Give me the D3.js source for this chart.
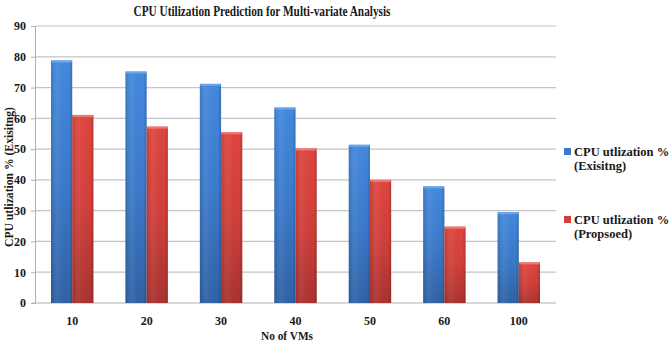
<!DOCTYPE html>
<html>
<head>
<meta charset="utf-8">
<script src="https://cdn.jsdelivr.net/npm/d3@7"></script>
<style>
  body { margin: 0; background: #fff; }
  svg text { font-family: "Liberation Serif", "Times New Roman", serif; font-weight: bold; fill: #1a1a1a; }
  .grid line { stroke: #c4c4c4; stroke-width: 1.2; }
  .axis path, .axis line { stroke: #b0b0b0; }
</style>
</head>
<body>
<div id="chart"></div>
<script>
const categories = ["10", "20", "30", "40", "50", "60", "100"];
const existing = [78.8, 75.2, 71.2, 63.5, 51.4, 37.9, 29.5];
const proposed = [61.1, 57.3, 55.5, 50.2, 40.0, 24.8, 13.2];
const seriesNames = ["CPU utlization % (Exisitng)", "CPU utlization % (Propsoed)"];
const yTicks = [0, 10, 20, 30, 40, 50, 60, 70, 80, 90];

const width = 669, height = 343;
const margin = { top: 26, right: 113, bottom: 40, left: 35 };

const svg = d3.select("#chart").append("svg")
  .attr("width", width).attr("height", height);

const defs = svg.append("defs");
function grad(id, light, mid, dark) {
  const g = defs.append("linearGradient").attr("id", id).attr("x1", 0).attr("y1", 0).attr("x2", 0).attr("y2", 1);
  g.append("stop").attr("offset", "0%").attr("stop-color", light);
  g.append("stop").attr("offset", "50%").attr("stop-color", mid);
  g.append("stop").attr("offset", "100%").attr("stop-color", dark);
  const h = defs.append("linearGradient").attr("id", id + "-h").attr("x1", 0).attr("y1", 0).attr("x2", 1).attr("y2", 0);
  h.append("stop").attr("offset", "0%").attr("stop-color", "#000").attr("stop-opacity", 0.12);
  h.append("stop").attr("offset", "30%").attr("stop-color", "#fff").attr("stop-opacity", 0.06);
  h.append("stop").attr("offset", "85%").attr("stop-color", "#000").attr("stop-opacity", 0.0);
  h.append("stop").attr("offset", "100%").attr("stop-color", "#000").attr("stop-opacity", 0.18);
}
grad("gBlue", "#4389de", "#3b7acb", "#2f62a6");
grad("gRed", "#e0453f", "#d13f3a", "#a9332f");

const x0 = d3.scaleBand().domain(categories)
  .range([margin.left, width - margin.right]).paddingInner(0.43).paddingOuter(0.215);
const x1 = d3.scaleBand().domain([0, 1]).range([0, x0.bandwidth()]);
const y = d3.scaleLinear().domain([0, 90]).range([height - margin.bottom, margin.top]);

// gridlines
svg.append("g").attr("class", "grid")
  .selectAll("line").data(yTicks.filter(d => d > 0)).join("line")
  .attr("x1", margin.left).attr("x2", width - margin.right)
  .attr("y1", d => y(d)).attr("y2", d => y(d));

// y axis
const yAxis = svg.append("g").attr("class", "axis")
  .attr("transform", `translate(${margin.left},0)`)
  .call(d3.axisLeft(y).tickValues(yTicks).tickSize(4).tickPadding(5));
yAxis.selectAll("text").attr("font-size", 12);

// x axis
const xAxis = svg.append("g").attr("class", "axis")
  .attr("transform", `translate(0,${y(0)})`)
  .call(d3.axisBottom(x0).tickSize(0).tickPadding(13));
xAxis.select(".domain").attr("d", `M${margin.left - 3},0H${width - margin.right}`);
xAxis.selectAll("text").attr("font-size", 12);

// bars
const rows = categories.map((c, i) => ({ c, vals: [existing[i], proposed[i]] }));
const fills = ["gBlue", "gRed"];
const caps = ["#6aa6ec", "#ee7a74"];
const grp = svg.append("g").selectAll("g").data(rows).join("g")
  .attr("transform", d => `translate(${x0(d.c)},0)`);
const bars = grp.selectAll("g").data(d => d.vals.map((v, k) => ({ v, k }))).join("g");
bars.append("rect")
  .attr("x", d => x1(d.k)).attr("width", x1.bandwidth())
  .attr("y", d => y(d.v)).attr("height", d => y(0) - y(d.v))
  .attr("fill", d => `url(#${fills[d.k]})`);
bars.append("rect")
  .attr("x", d => x1(d.k)).attr("width", x1.bandwidth())
  .attr("y", d => y(d.v)).attr("height", d => y(0) - y(d.v))
  .attr("fill", d => `url(#${fills[d.k]}-h)`);
bars.append("rect")
  .attr("x", d => x1(d.k) + 0.5).attr("width", x1.bandwidth() - 1)
  .attr("y", d => y(d.v)).attr("height", 2)
  .attr("fill", d => caps[d.k]);

// title
svg.append("text").attr("x", 262).attr("y", 16).attr("text-anchor", "middle")
  .attr("font-size", 15).attr("textLength", 257).attr("lengthAdjust", "spacingAndGlyphs")
  .text("CPU Utilization Prediction for Multi-variate Analysis");

// axis titles
svg.append("text").attr("transform", `translate(13,177) rotate(-90)`)
  .attr("text-anchor", "middle").attr("font-size", 12.5)
  .attr("textLength", 140).attr("lengthAdjust", "spacingAndGlyphs")
  .text("CPU utlization % (Exisitng)");
svg.append("text").attr("x", 287).attr("y", 340)
  .attr("text-anchor", "middle").attr("font-size", 12.5)
  .attr("textLength", 52).attr("lengthAdjust", "spacingAndGlyphs")
  .text("No of VMs");

// legend
const legendColors = ["#3b7acb", "#d13f3a"];
const leg = svg.append("g").selectAll("g").data(seriesNames).join("g")
  .attr("transform", (d, i) => `translate(564,${152 + i * 68})`);
leg.append("rect").attr("x", 0).attr("y", -4).attr("width", 7).attr("height", 7)
  .attr("fill", (d, i) => legendColors[i]);
leg.append("text").attr("x", 10).attr("y", 4).attr("font-size", 12.5)
  .text(d => d.slice(0, d.indexOf("(") - 1));
leg.append("text").attr("x", 10).attr("y", 18).attr("font-size", 12.5)
  .text(d => d.slice(d.indexOf("(")));
</script>
</body>
</html>
